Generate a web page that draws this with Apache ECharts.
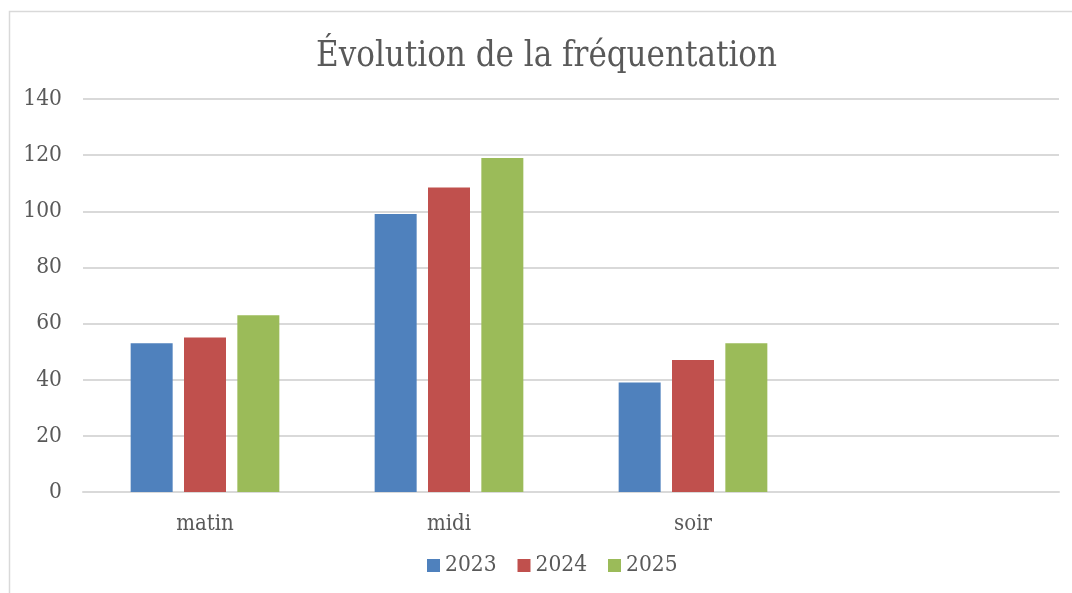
<!DOCTYPE html>
<html>
<head>
<meta charset="utf-8">
<script src="https://cdn.jsdelivr.net/npm/echarts@6/dist/echarts.min.js"></script>
<style>
  html, body { margin: 0; padding: 0; background: #fff; }
  #main { width: 1072px; height: 593px; }
</style>
</head>
<body>
<div id="main"></div>
<script>
const categories = ['matin', 'midi', 'soir', ''];
const years = ['2023', '2024', '2025'];
const values2023 = [53, 99, 39, null];
const values2024 = [55, 108.5, 47, null];
const values2025 = [63, 119, 53, null];
const colors = ['#4F81BD', '#C0504D', '#9BBB59'];

const chart = echarts.init(document.getElementById('main'), null, { renderer: 'canvas' });
const font = '"DejaVu Serif Condensed", "DejaVu Serif", serif';

const seriesData = [values2023, values2024, values2025];

const option = {
    animation: false,
    textStyle: { fontFamily: font, color: '#595959' },
    title: {
        text: 'Évolution de la fréquentation',
        left: 311,
        top: 35,
        textStyle: { fontFamily: font, fontSize: 34.5, fontWeight: 'normal', color: '#595959' }
    },
    legend: {
        data: years,
        bottom: 11,
        left: 422,
        itemWidth: 13,
        itemHeight: 13,
        itemGap: 21,
        icon: 'rect',
        textStyle: { fontFamily: font, fontSize: 22.5, color: '#595959' }
    },
    grid: {
        left: 83,
        right: 13,
        top: 99,
        bottom: 101
    },
    graphic: [{
        type: 'rect',
        shape: { x: 9.5, y: 11.5, width: 1200, height: 700 },
        style: { fill: 'none', stroke: '#D9D9D9', lineWidth: 1.5 },
        silent: true
    }],
    xAxis: {
        type: 'category',
        data: categories,
        axisTick: { show: false },
        axisLine: { lineStyle: { color: '#D9D9D9', width: 2 } },
        axisLabel: { fontFamily: font, fontSize: 22, color: '#595959', margin: 21 }
    },
    yAxis: {
        type: 'value',
        min: 0,
        max: 140,
        interval: 20,
        axisLine: { show: false },
        axisTick: { show: false },
        axisLabel: { fontFamily: font, fontSize: 22.5, color: '#595959', margin: 21 },
        splitLine: { lineStyle: { color: '#D9D9D9', width: 2 } }
    },
    series: years.map((y, i) => ({
        name: y,
        type: 'bar',
        data: seriesData[i],
        barWidth: 42,
        barGap: '27%',
        itemStyle: { color: colors[i] }
    }))
};

chart.setOption(option);
</script>
</body>
</html>
